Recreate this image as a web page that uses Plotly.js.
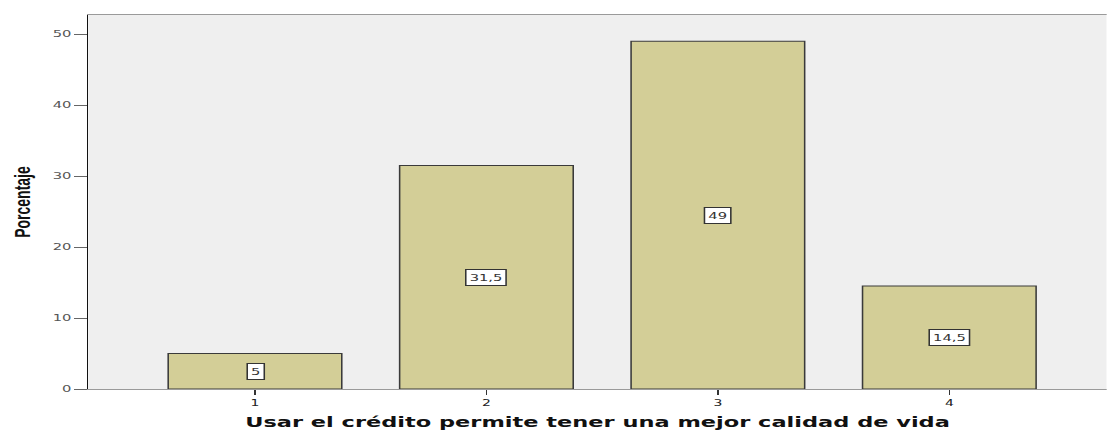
<!DOCTYPE html>
<html>
<head>
<meta charset="utf-8">
<script src="https://cdn.plot.ly/plotly-3.0.1.min.js"></script>
<style>
  html, body { margin: 0; padding: 0; background: #ffffff; overflow: hidden; }
  /* The chart is laid out narrow and widened horizontally, giving the wide lettering */
  #chart { width: 714px; height: 430px; transform: scaleX(1.55); transform-origin: 0 0; }
</style>
</head>
<body>
<div id="chart"></div>
<script>
// Responses to: "Usar el crédito permite tener una mejor calidad de vida"
const categories = [1, 2, 3, 4];
const tickLabels = ['1', '2', '3', '4'];
const percentages = [5, 31.5, 49, 14.5];

const xTitle = 'Usar el crédito permite tener una mejor calidad de vida';
const yTitle = 'Porcentaje';

// Value labels use a decimal comma
const fmt = v => String(v).replace('.', ',');

const bars = {
  type: 'bar',
  x: categories,
  y: percentages,
  width: 0.75,
  marker: { color: '#d3ce97', line: { color: '#3a3a3a', width: 1 } },
  hoverinfo: 'skip'
};

// Boxed labels in the middle of each bar
const labels = categories.map((c, i) => ({
  x: c,
  y: percentages[i] / 2,
  xref: 'x',
  yref: 'y',
  text: fmt(percentages[i]),
  showarrow: false,
  font: { family: 'DejaVu Sans, sans-serif', size: 9.5, color: '#333' },
  bgcolor: '#ffffff',
  bordercolor: '#333333',
  borderwidth: 1,
  borderpad: 2
}));

const layout = {
  width: 714,
  height: 430,
  margin: { l: 57, r: 0, t: 15, b: 41 },
  paper_bgcolor: '#ffffff',
  plot_bgcolor: '#efefef',
  showlegend: false,
  font: { family: 'DejaVu Sans, sans-serif' },
  xaxis: {
    range: [0.28, 4.68],
    tickvals: categories,
    ticktext: tickLabels,
    ticks: 'outside',
    ticklen: 5,
    tickcolor: '#333',
    tickfont: { size: 9, color: '#222' },
    showline: true,
    linecolor: '#9a9a9a',
    linewidth: 1,
    mirror: true,
    showgrid: false,
    zeroline: false,
    title: {
      text: xTitle,
      standoff: 10,
      font: { family: 'DejaVu Sans, sans-serif', size: 14.5, weight: 'bold', color: '#111' }
    }
  },
  yaxis: {
    range: [0, 52.7],
    tick0: 0,
    dtick: 10,
    ticks: 'outside',
    ticklen: 8,
    tickcolor: '#666',
    tickfont: { size: 9.5, color: '#555' },
    showline: true,
    linecolor: '#111',
    linewidth: 1,
    showgrid: false,
    zeroline: false,
    title: {
      text: yTitle,
      standoff: 10,
      font: { family: 'Liberation Sans Narrow, Liberation Sans, Arial, sans-serif', size: 14, weight: 'bold', color: '#111' }
    }
  },
  annotations: labels
};

Plotly.newPlot('chart', [bars], layout, { staticPlot: true, displayModeBar: false });
</script>
</body>
</html>
